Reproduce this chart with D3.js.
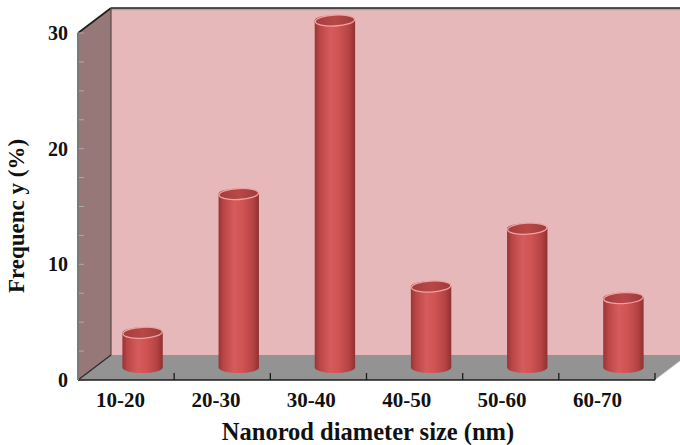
<!DOCTYPE html>
<html>
<head>
<meta charset="utf-8">
<script src="https://cdn.jsdelivr.net/npm/d3@7/dist/d3.min.js"></script>
<style>
  body { margin: 0; background: #fff; }
  svg { display: block; }
  text { font-family: "Liberation Serif", "Times New Roman", serif; font-weight: bold; fill: #111; }
</style>
</head>
<body>
<svg id="chart" width="680" height="445"></svg>
<script>
// Size distribution of nanorod diameters
const categories = ["10-20", "20-30", "30-40", "40-50", "50-60", "60-70"];
const frequency = [3, 15, 30, 7, 12, 6];
const yTicks = [0, 10, 20, 30];
const yMinorTicks = [0, 2.5, 5, 7.5, 10, 12.5, 15, 17.5, 20, 22.5, 25, 27.5, 30];
const xTitle = "Nanorod diameter size (nm)";
const yTitle = "Frequenc y (%)";

const svg = d3.select("#chart");
const W = 680;

// front plane of the 3-D box and its depth offset
const front = { left: 78, right: 655, bottom: 380, top: 33 };
const depth = { dx: 33, dy: -25 };

const x = d3.scaleBand().domain(categories).range([front.left, front.right]);
const y = d3.scaleLinear().domain([0, 30]).range([front.bottom, front.top]);
const xLabel = d3.scalePoint().domain(categories).range([120, 597]);

const defs = svg.append("defs");
const body = defs.append("linearGradient").attr("id", "cylBody")
  .attr("x1", "0%").attr("x2", "100%").attr("y1", "0%").attr("y2", "0%");
[["0%", "#9a3434"], ["12%", "#b94545"], ["38%", "#d65b5b"], ["60%", "#cf5353"],
 ["85%", "#b54343"], ["100%", "#8f3131"]].forEach(([o, c]) =>
  body.append("stop").attr("offset", o).attr("stop-color", c));
const cap = defs.append("linearGradient").attr("id", "cylCap")
  .attr("x1", "0%").attr("x2", "100%").attr("y1", "0%").attr("y2", "0%");
[["0%", "#a53c3c"], ["50%", "#b84848"], ["100%", "#a03a3a"]].forEach(([o, c]) =>
  cap.append("stop").attr("offset", o).attr("stop-color", c));

const backTop = front.top + depth.dy;
const backBottom = front.bottom + depth.dy;
const backLeft = front.left + depth.dx;

// back wall
svg.append("rect")
  .attr("x", backLeft).attr("y", backTop)
  .attr("width", W - backLeft).attr("height", backBottom - backTop)
  .attr("fill", "#e6b8b9");

// left side wall
svg.append("polygon")
  .attr("points", [[front.left, front.top], [backLeft, backTop], [backLeft, backBottom], [front.left, front.bottom]].join(" "))
  .attr("fill", "#967879");

// floor
const rightBackY = front.bottom + depth.dy * ((W - front.right) / depth.dx);
svg.append("polygon")
  .attr("points", [[front.left, front.bottom], [backLeft, backBottom], [W, backBottom], [W, rightBackY], [front.right, front.bottom]].join(" "))
  .attr("fill", "#939393");

// wall edges
svg.append("line").attr("x1", backLeft).attr("x2", W).attr("y1", backTop + 1.6).attr("y2", backTop + 1.6)
  .attr("stroke", "#a8a8a8").attr("stroke-width", 1.5);
svg.append("line").attr("x1", backLeft).attr("x2", W).attr("y1", backTop).attr("y2", backTop)
  .attr("stroke", "#1c1c1c").attr("stroke-width", 1.6);
svg.append("line").attr("x1", front.left).attr("y1", front.top).attr("x2", backLeft).attr("y2", backTop)
  .attr("stroke", "#1c1c1c").attr("stroke-width", 1.6);
svg.append("line").attr("x1", backLeft).attr("y1", backTop).attr("x2", backLeft).attr("y2", backBottom)
  .attr("stroke", "#5a4848").attr("stroke-width", 1.2);
svg.append("line").attr("x1", front.left).attr("y1", front.bottom).attr("x2", backLeft).attr("y2", backBottom)
  .attr("stroke", "#2a2a2a").attr("stroke-width", 1.3);
svg.append("line").attr("x1", front.right).attr("y1", front.bottom).attr("x2", W).attr("y2", rightBackY)
  .attr("stroke", "#d8d8d8").attr("stroke-width", 1);

// minor ticks along the front edge of the side wall
svg.append("g").selectAll("line").data(yMinorTicks).join("line")
  .attr("x1", front.left).attr("x2", front.left + 6)
  .attr("y1", d => y(d)).attr("y2", d => y(d))
  .attr("stroke", "#ababab").attr("stroke-width", 1);

// cylinders, standing half way into the depth of the box
const rx = x.bandwidth() * 0.21;
const ry = 5.5;
const cyl = svg.append("g").selectAll("g")
  .data(categories.map((c, i) => ({ c, v: frequency[i] })))
  .join("g");
cyl.each(function (d) {
  const g = d3.select(this);
  const cx = x(d.c) + x.bandwidth() / 2 + depth.dx / 2;
  const base = y(0) + depth.dy / 2;
  const top = y(d.v) + depth.dy / 2;
  g.append("path")
    .attr("d", `M${cx - rx},${top} L${cx - rx},${base} A${rx},${ry} 0 0 0 ${cx + rx},${base} L${cx + rx},${top} A${rx},${ry} 0 0 0 ${cx - rx},${top} Z`)
    .attr("fill", "url(#cylBody)");
  g.append("ellipse")
    .attr("cx", cx).attr("cy", top).attr("rx", rx - 0.5).attr("ry", ry)
    .attr("transform", `rotate(-3 ${cx} ${top})`)
    .attr("fill", "url(#cylCap)")
    .attr("stroke", "#eda3a3").attr("stroke-width", 1.3);
});

// floor front edge with category ticks
svg.append("line").attr("x1", front.left).attr("x2", front.right)
  .attr("y1", front.bottom).attr("y2", front.bottom)
  .attr("stroke", "#1c1c1c").attr("stroke-width", 1.6);
svg.append("g").selectAll("line").data(categories.slice(1).map(c => x(c)).concat([front.right])).join("line")
  .attr("x1", d => d).attr("x2", d => d)
  .attr("y1", front.bottom - 7).attr("y2", front.bottom)
  .attr("stroke", "#1c1c1c").attr("stroke-width", 1.3);

// front-left edge
svg.append("line").attr("x1", front.left).attr("x2", front.left)
  .attr("y1", front.top).attr("y2", front.bottom)
  .attr("stroke", "#7a7a7a").attr("stroke-width", 2);

// y axis labels
const yAxis = svg.append("g").attr("transform", `translate(${front.left},0)`)
  .call(d3.axisLeft(y).tickValues(yTicks).tickSize(0).tickPadding(10).tickFormat(d3.format("d")));
yAxis.select(".domain").remove();
yAxis.selectAll("text").style("font-size", "20px").style("font-family", "Liberation Serif").style("font-weight", "bold");

// x axis labels
const xAxis = svg.append("g").attr("transform", `translate(0,${front.bottom})`)
  .call(d3.axisBottom(xLabel).tickSize(0).tickPadding(12));
xAxis.select(".domain").remove();
xAxis.selectAll("text").style("font-size", "21px").style("font-family", "Liberation Serif").style("font-weight", "bold");

// axis titles
svg.append("text")
  .attr("x", 368).attr("y", 440)
  .attr("text-anchor", "middle")
  .style("font-size", "24.5px")
  .text(xTitle);
svg.append("text")
  .attr("transform", "translate(24,216) rotate(-90)")
  .attr("text-anchor", "middle")
  .style("font-size", "23px")
  .text(yTitle);
</script>
</body>
</html>
